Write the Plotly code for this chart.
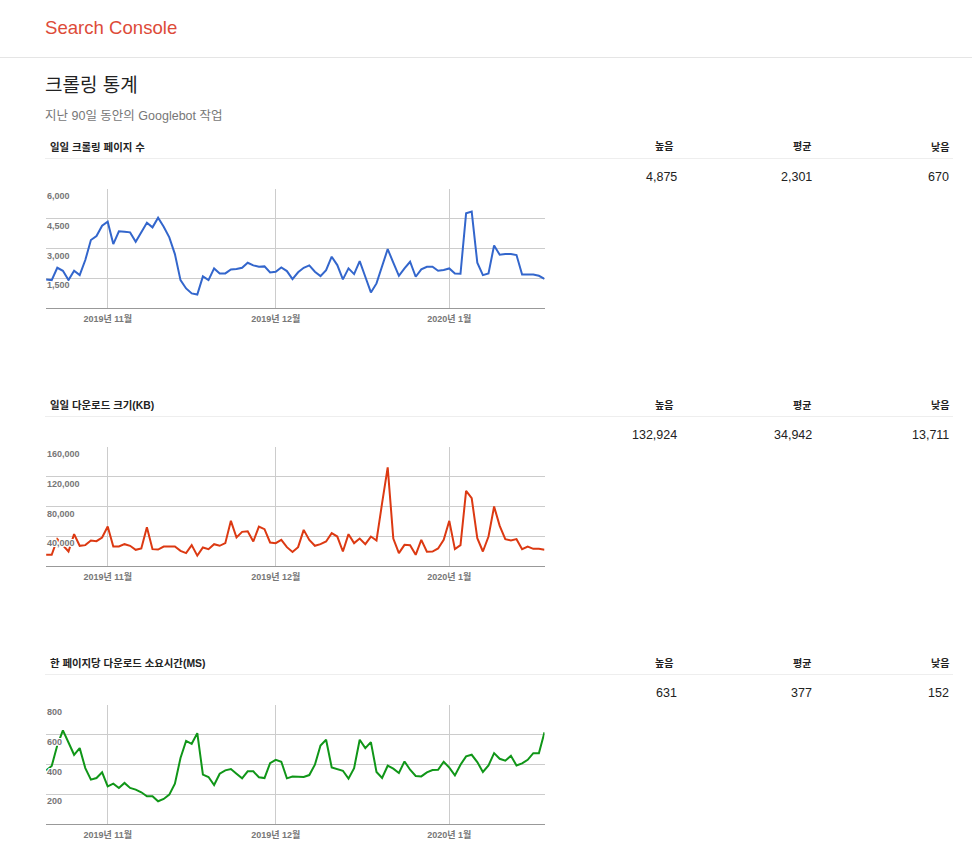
import plotly.graph_objects as go
import pandas as pd

# ---------------- data ----------------
start_date = "2019-10-21"
n_days = 90

pages_crawled = [
    1437, 1403, 2028, 1876, 1403, 1876, 1656, 2417, 3431, 3634,
    4157, 4360, 3228, 3870, 3853, 3819, 3346, 3819, 4310, 4073,
    4563, 4107, 3566, 2721, 1403, 980, 727, 670, 1589, 1403,
    1994, 1741, 1741, 1944, 1960, 2028, 2282, 2146, 2079, 2096,
    1791, 1825, 2045, 1859, 1453, 1800, 2028, 2146, 1825, 1606,
    1910, 2586, 2163, 1437, 1994, 1707, 2366, 1572, 777, 1234,
    2129, 2974, 2282, 1622, 1994, 2332, 1572, 1944, 2079, 2079,
    1876, 1910, 1994, 1741, 1724, 4783, 4875, 2282, 1656, 1741,
    3160, 2687, 2721, 2721, 2670, 1690, 1690, 1690, 1622, 1470,
]

kb_downloaded = [
    14800, 14800, 36000, 28300, 19300, 42700, 27000, 27900, 34150, 33250,
    38200, 53000, 26000, 26000, 29200, 27000, 21600, 23400, 52100, 22500,
    22000, 26000, 26000, 26000, 20200, 17100, 27900, 13711, 24700, 22500,
    29200, 27000, 30600, 60700, 38200, 45800, 46700, 32800, 53000, 49400,
    31500, 30600, 35000, 25200, 18600, 25200, 48500, 35000, 27000, 29200,
    32800, 44000, 39500, 19300, 42700, 30600, 36800, 29200, 39500, 34150,
    84500, 132924, 36800, 17100, 28300, 27900, 14800, 35000, 18900, 19300,
    23400, 35000, 60700, 22500, 27900, 101100, 91200, 37300, 19300, 39500,
    80000, 53900, 36000, 34150, 36000, 22500, 26000, 22900, 22900, 21600,
]

ms_per_page = [
    360, 390, 530, 631, 549, 466, 511, 376, 298, 309,
    347, 253, 271, 242, 276, 242, 231, 213, 186, 186,
    152, 168, 197, 271, 444, 560, 540, 612, 332, 316,
    262, 338, 361, 370, 338, 307, 354, 354, 314, 309,
    410, 432, 419, 307, 319, 318, 316, 329, 399, 529,
    567, 381, 370, 358, 305, 376, 567, 511, 551, 350,
    309, 392, 372, 343, 421, 365, 323, 320, 347, 363,
    365, 419, 379, 327, 399, 455, 466, 417, 350, 394,
    477, 439, 426, 459, 394, 408, 432, 477, 477, 618,
]

month_ticks = ["2019-11-01", "2019-12-01", "2020-01-01"]
month_labels = ["2019년 11월", "2019년 12월", "2020년 1월"]

section_titles = ["일일 크롤링 페이지 수", "일일 다운로드 크기(KB)", "한 페이지당 다운로드 소요시간(MS)"]
stat_headers = ["높음", "평균", "낮음"]
stat_values = [["4,875", "2,301", "670"], ["132,924", "34,942", "13,711"], ["631", "377", "152"]]

y_ticks = [[1500, 3000, 4500, 6000], [40000, 80000, 120000, 160000], [200, 400, 600, 800]]
y_ticklabels = [["1,500", "3,000", "4,500", "6,000"],
                ["40,000", "80,000", "120,000", "160,000"],
                ["200", "400", "600", "800"]]
y_max = [6000, 160000, 800]

series = [pages_crawled, kb_downloaded, ms_per_page]
colors = ["#3366cc", "#dc3912", "#109618"]

# ---------------- layout helpers ----------------
W, H = 972, 864
FONT = "Arial, 'Liberation Sans', 'Noto Sans CJK KR', sans-serif"
dates = pd.date_range(start_date, periods=n_days, freq="D")
PAD = 2  # annotation box padding in px


def fy(y):
    return 1 - y / H


def fx(x):
    return x / W


def note(text, x, y, xanchor, size, color, weight="normal"):
    x_adj = x - PAD if xanchor == "left" else x + PAD
    return dict(text=text, x=fx(x_adj), y=fy(y), xref="paper", yref="paper",
                xanchor=xanchor, yanchor="middle", showarrow=False,
                font=dict(family=FONT, size=size, color=color, weight=weight))


fig = go.Figure()
annotations = []
shapes = []

section_offset = 258
chart_top0 = 189.3
chart_h = 118.5
plot_left, plot_right = 46.1, 544.5
halo = ("1px 1px 0 #fff, -1px -1px 0 #fff, 1px -1px 0 #fff, -1px 1px 0 #fff, "
        "0 1px 0 #fff, 0 -1px 0 #fff, 1px 0 0 #fff, -1px 0 0 #fff")

for k in range(3):
    off = k * section_offset
    top = chart_top0 + off
    bottom = top + chart_h
    xa = "xaxis" if k == 0 else f"xaxis{k+1}"
    ya = "yaxis" if k == 0 else f"yaxis{k+1}"
    xr = "x" if k == 0 else f"x{k+1}"
    yr = "y" if k == 0 else f"y{k+1}"

    fig.add_trace(go.Scatter(
        x=dates, y=series[k], mode="lines",
        line=dict(color=colors[k], width=2),
        xaxis=xr, yaxis=yr, hoverinfo="skip", showlegend=False,
    ))

    fig.layout[xa] = dict(
        domain=[fx(plot_left), fx(plot_right)],
        anchor=yr,
        range=[dates[0], dates[-1]],
        tickmode="array",
        tickvals=month_ticks,
        ticktext=month_labels,
        showgrid=True, gridcolor="#cccccc", gridwidth=1,
        showline=True, linecolor="#999999", linewidth=1,
        ticks="", zeroline=False,
        tickfont=dict(family=FONT, size=9, color="#777777", weight="bold"),
        ticklabelstandoff=2,
        automargin=False,
        fixedrange=True,
    )
    fig.layout[ya] = dict(
        domain=[fy(bottom), fy(top)],
        anchor=xr,
        range=[0, y_max[k]],
        tickmode="array",
        tickvals=y_ticks[k],
        ticktext=y_ticklabels[k],
        showgrid=True, gridcolor="#cccccc", gridwidth=1,
        zeroline=False, showline=False, ticks="",
        ticklabelposition="inside",
        ticklabelshift=7,
        ticklabelstandoff=-2,
        ticklabeloverflow="allow",
        layer="above traces",
        automargin=False,
        tickfont=dict(family=FONT, size=9, color="#777777", weight="bold", shadow=halo),
        fixedrange=True,
    )

    # section header row
    hy = 147 + off
    annotations.append(note(section_titles[k], 50, hy, "left", 10.4, "#222222", "bold"))
    for j, xr_ in enumerate([673, 811, 949]):
        annotations.append(note(stat_headers[j], xr_, hy, "right", 10, "#222222", "bold"))
    for j, xr_ in enumerate([677, 812, 949]):
        annotations.append(note(stat_values[k][j], xr_, 177 + off, "right", 12.5, "#222222"))
    sy = fy(158.5 + off)
    shapes.append(dict(type="line", xref="paper", yref="paper", x0=fx(45), x1=fx(953), y0=sy, y1=sy,
                       line=dict(color="#eeeeee", width=1)))

# page header
annotations.append(note("Search Console", 45, 27, "left", 18.6, "#dd4b39"))
shapes.append(dict(type="line", xref="paper", yref="paper", x0=0, x1=1, y0=fy(57.5), y1=fy(57.5),
                   line=dict(color="#e5e5e5", width=1)))
annotations.append(note("크롤링 통계", 45, 85, "left", 19, "#222222"))
annotations.append(note("지난 90일 동안의 Googlebot 작업", 45, 116, "left", 12.5, "#777777"))

fig.update_layout(
    width=W, height=H,
    margin=dict(l=0, r=0, t=0, b=0, pad=0, autoexpand=False),
    paper_bgcolor="white", plot_bgcolor="white",
    annotations=annotations, shapes=shapes,
    showlegend=False,
    font=dict(family=FONT),
)

fig.write_html("out.html", config={"displayModeBar": False})
